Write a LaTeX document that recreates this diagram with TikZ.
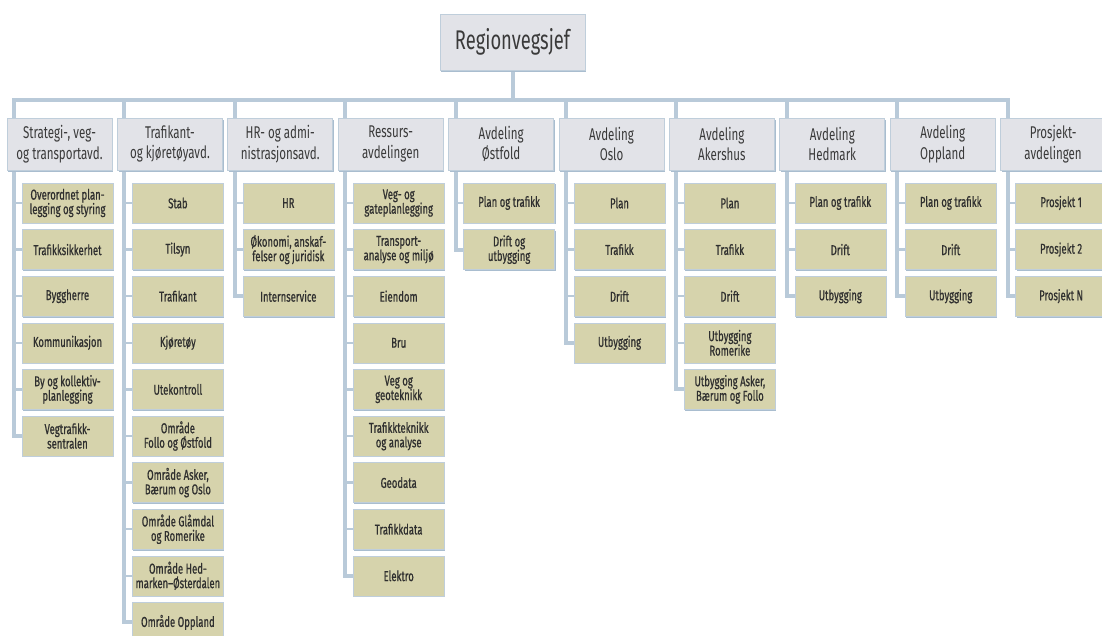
\documentclass[tikz,border=0pt]{standalone}
\usepackage{fontspec}
\usetikzlibrary{shadows,backgrounds}
\newfontfamily\dinfont[FakeStretch=0.68]{Fira Sans}
\newfontfamily\dinsubfont[FakeStretch=0.665,FakeBold=0.7]{Fira Sans}
\definecolor{deptc}{HTML}{E2E3E8}
\definecolor{subc}{HTML}{D6D3AC}
\definecolor{linec}{HTML}{B9CAD9}
\definecolor{bordc}{HTML}{BFCEDB}
\definecolor{shadc}{HTML}{A9BDCF}
\definecolor{txtc}{HTML}{3A3A3A}
\definecolor{subtxtc}{HTML}{2F2F2F}
\newcommand\mkdep[2]{\node[deptbox] (d#1) at ({14+110.4*(#1-1)+45.5},144) {#2};}
\newcommand\mksub[3]{\node[subbox] (s#1-#2) at ({14+110.4*(#1-1)+53.5},{203+46.6*(#2-1)}) {#3};}
\newcommand\mkbranch[2]{%
  \draw[conn] (c#1) |- (s#1-#2.west);
  \foreach \k in {1,...,#2}{\draw[stub] (c#1 |- s#1-\k.west) -- (s#1-\k.west);}}
\begin{document}
\begin{tikzpicture}[x=1pt,y=-1pt,
  deptbox/.style={draw=bordc,line width=0.7pt,fill=deptc,minimum width=105pt,minimum height=52pt,
    inner sep=0pt,align=center,text=txtc,font={\dinfont\fontsize{17}{20.5}\selectfont},
    drop shadow={shadow xshift=1.2pt,shadow yshift=-1.5pt,fill=shadc,opacity=1}},
  topbox/.style={deptbox,minimum width=145pt,minimum height=56pt,font={\dinfont\fontsize{27}{30}\selectfont}},
  subbox/.style={draw=bordc,line width=0.6pt,fill=subc,minimum width=91pt,minimum height=40pt,
    inner sep=0pt,align=center,text=subtxtc,font={\dinsubfont\fontsize{14.3}{14.5}\selectfont},
    drop shadow={shadow xshift=1pt,shadow yshift=-1.3pt,fill=shadc,opacity=1}},
  conn/.style={draw=linec,line width=4pt},
  stub/.style={draw=linec,line width=2.5pt}]
\useasboundingbox (0,0) rectangle (1102,635);
\clip (0,0) rectangle (1102,635);
\node[topbox] (top) at (512.5,42) {Regionvegsjef};
\mkdep{1}{Strategi-, veg-\\og transportavd.}
\mkdep{2}{Trafikant-\\og kjøretøyavd.}
\mkdep{3}{HR- og admi-\\nistrasjonsavd.}
\mkdep{4}{Ressurs-\\avdelingen}
\mkdep{5}{Avdeling\\Østfold}
\mkdep{6}{Avdeling\\Oslo}
\mkdep{7}{Avdeling\\Akershus}
\mkdep{8}{Avdeling\\Hedmark}
\mkdep{9}{Avdeling\\Oppland}
\mkdep{10}{Prosjekt-\\avdelingen}
\mksub{1}{1}{Overordnet plan-\\legging og styring}
\mksub{1}{2}{Trafikksikkerhet}
\mksub{1}{3}{Byggherre}
\mksub{1}{4}{Kommunikasjon}
\mksub{1}{5}{By og kollektiv-\\planlegging}
\mksub{1}{6}{Vegtrafikk-\\sentralen}
\mksub{2}{1}{Stab}
\mksub{2}{2}{Tilsyn}
\mksub{2}{3}{Trafikant}
\mksub{2}{4}{Kjøretøy}
\mksub{2}{5}{Utekontroll}
\mksub{2}{6}{Område\\Follo og Østfold}
\mksub{2}{7}{Område Asker,\\Bærum og Oslo}
\mksub{2}{8}{Område Glåmdal\\og Romerike}
\mksub{2}{9}{Område Hed-\\marken–Østerdalen}
\mksub{2}{10}{Område Oppland}
\mksub{3}{1}{HR}
\mksub{3}{2}{Økonomi, anskaf-\\felser og juridisk}
\mksub{3}{3}{Internservice}
\mksub{4}{1}{Veg- og\\gateplanlegging}
\mksub{4}{2}{Transport-\\analyse og miljø}
\mksub{4}{3}{Eiendom}
\mksub{4}{4}{Bru}
\mksub{4}{5}{Veg og\\geoteknikk}
\mksub{4}{6}{Trafikkteknikk\\og analyse}
\mksub{4}{7}{Geodata}
\mksub{4}{8}{Trafikkdata}
\mksub{4}{9}{Elektro}
\mksub{5}{1}{Plan og trafikk}
\mksub{5}{2}{Drift og\\utbygging}
\mksub{6}{1}{Plan}
\mksub{6}{2}{Trafikk}
\mksub{6}{3}{Drift}
\mksub{6}{4}{Utbygging}
\mksub{7}{1}{Plan}
\mksub{7}{2}{Trafikk}
\mksub{7}{3}{Drift}
\mksub{7}{4}{Utbygging\\Romerike}
\mksub{7}{5}{Utbygging Asker,\\Bærum og Follo}
\mksub{8}{1}{Plan og trafikk}
\mksub{8}{2}{Drift}
\mksub{8}{3}{Utbygging}
\mksub{9}{1}{Plan og trafikk}
\mksub{9}{2}{Drift}
\mksub{9}{3}{Utbygging}
\mksub{10}{1}{Prosjekt 1}
\mksub{10}{2}{Prosjekt 2}
\mksub{10}{3}{Prosjekt N}
\begin{scope}[on background layer]
\foreach \i in {1,...,10}{\coordinate (c\i) at ({14+110.4*(\i-1)},100);}
\draw[conn,line cap=rect] (c1) -- (c10);
\draw[conn] (top.south) -- (top.south |- c1);
\mkbranch{1}{6}
\mkbranch{2}{10}
\mkbranch{3}{3}
\mkbranch{4}{9}
\mkbranch{5}{2}
\mkbranch{6}{4}
\mkbranch{7}{5}
\mkbranch{8}{3}
\mkbranch{9}{3}
\mkbranch{10}{3}
\end{scope}
\end{tikzpicture}
\end{document}
